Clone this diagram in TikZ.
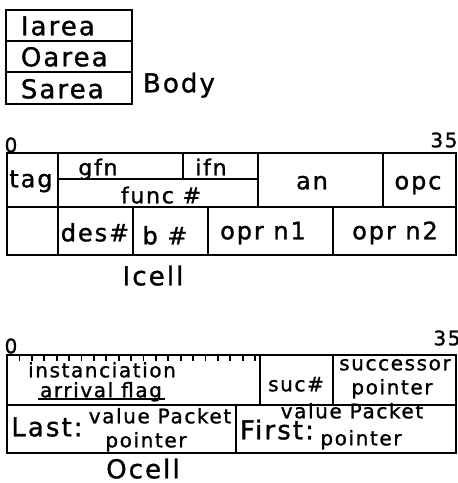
\documentclass[tikz,border=0pt]{standalone}
\usepackage{fontspec}
\setmainfont{DejaVu Sans}[LetterSpace=8,FakeBold=1.2]

\begin{document}
\begin{tikzpicture}[x=0.5pt,y=-0.5pt,line width=0.9pt,
  big/.style={font=\fontsize{13}{13}\selectfont,inner sep=0pt,text height=1.7ex,text depth=0pt},
  mid/.style={font=\fontsize{12}{12}\selectfont,inner sep=0pt,text height=1.7ex,text depth=0pt},
  small/.style={font=\fontsize{10}{10}\selectfont,inner sep=0pt,text height=1.7ex,text depth=0pt},
  bit/.style={font=\fontsize{10}{10}\selectfont,inner sep=0pt}]
\useasboundingbox (0,0) rectangle (458,483);

% Body areas
\draw (6,10) rectangle (132,104);
\draw (6,41) -- (132,41);
\draw (6,72) -- (132,72);
\node[big,anchor=west] (iarea) at (20,26) {Iarea};
\node[big,anchor=west] (oarea) at (20,57) {Oarea};
\node[big,anchor=west] (sarea) at (20,89) {Sarea};
\node[big] (body) at (179,83) {Body};

% Icell
\node[bit] (i0) at (11,145) {0};
\node[bit] (i35) at (444,140) {35};
\draw (7,153) rectangle (456,255);
\draw (7,207) -- (456,207);
\draw (58,153) -- (58,255);
\draw (58,179) -- (258,179);
\draw (183,153) -- (183,179);
\draw (258,153) -- (258,207);
\draw (383,153) -- (383,207);
\draw (133,207) -- (133,255);
\draw (208,207) -- (208,255);
\draw (333,207) -- (333,255);

\node[mid] (tag) at (31,178) {tag};
\node[small,font=\fontsize{11}{11}\selectfont] (gfn) at (98,166) {gfn};
\node[small,font=\fontsize{11}{11}\selectfont] (ifn) at (211,166) {ifn};
\node[small,font=\fontsize{11}{11}\selectfont] (func) at (161,194) {func \#};
\node[mid] (an) at (312,180) {an};
\node[mid] (opc) at (418,180) {opc};
\node[mid] (des) at (95,232) {des\#};
\node[mid] (b) at (165,235) {b \#};
\node[mid] (opr1) at (263,230) {opr n1};
\node[mid] (opr2) at (395,230) {opr n2};
\node[big] (icell) at (153,276) {Icell};

% Ocell
\node[bit] (o0) at (11,346) {0};
\node[bit] (o35) at (447,338) {35};
\draw (7,355) rectangle (456,453);
\draw (7,405) -- (456,405);
\draw (260,355) -- (260,405);
\draw (333,355) -- (333,405);
\draw (236,405) -- (236,453);
\foreach \i in {1,...,20}
  \draw (7+12.4*\i,355) -- ++(0,6);

\node[small] (inst) at (102,368) {instanciation};
\node[small] (arr) at (101,388) {arrival flag};
\draw (38,399) -- (165,399);
\node[small] (suc) at (296,382) {suc\#};
\node[small] (succ) at (395,361) {successor};
\node[small] (sptr) at (392,385) {pointer};
\node[big] (last) at (47,427) {Last:};
\node[small] (lval) at (160,414) {value Packet};
\node[small] (lptr) at (146,438) {pointer};
\node[big] (first) at (277,430) {First:};
\node[small] (fval) at (352,409) {value Packet};
\node[small] (fptr) at (361,436) {pointer};
\node[big] (ocell) at (143,469) {Ocell};
\end{tikzpicture}
\end{document}
